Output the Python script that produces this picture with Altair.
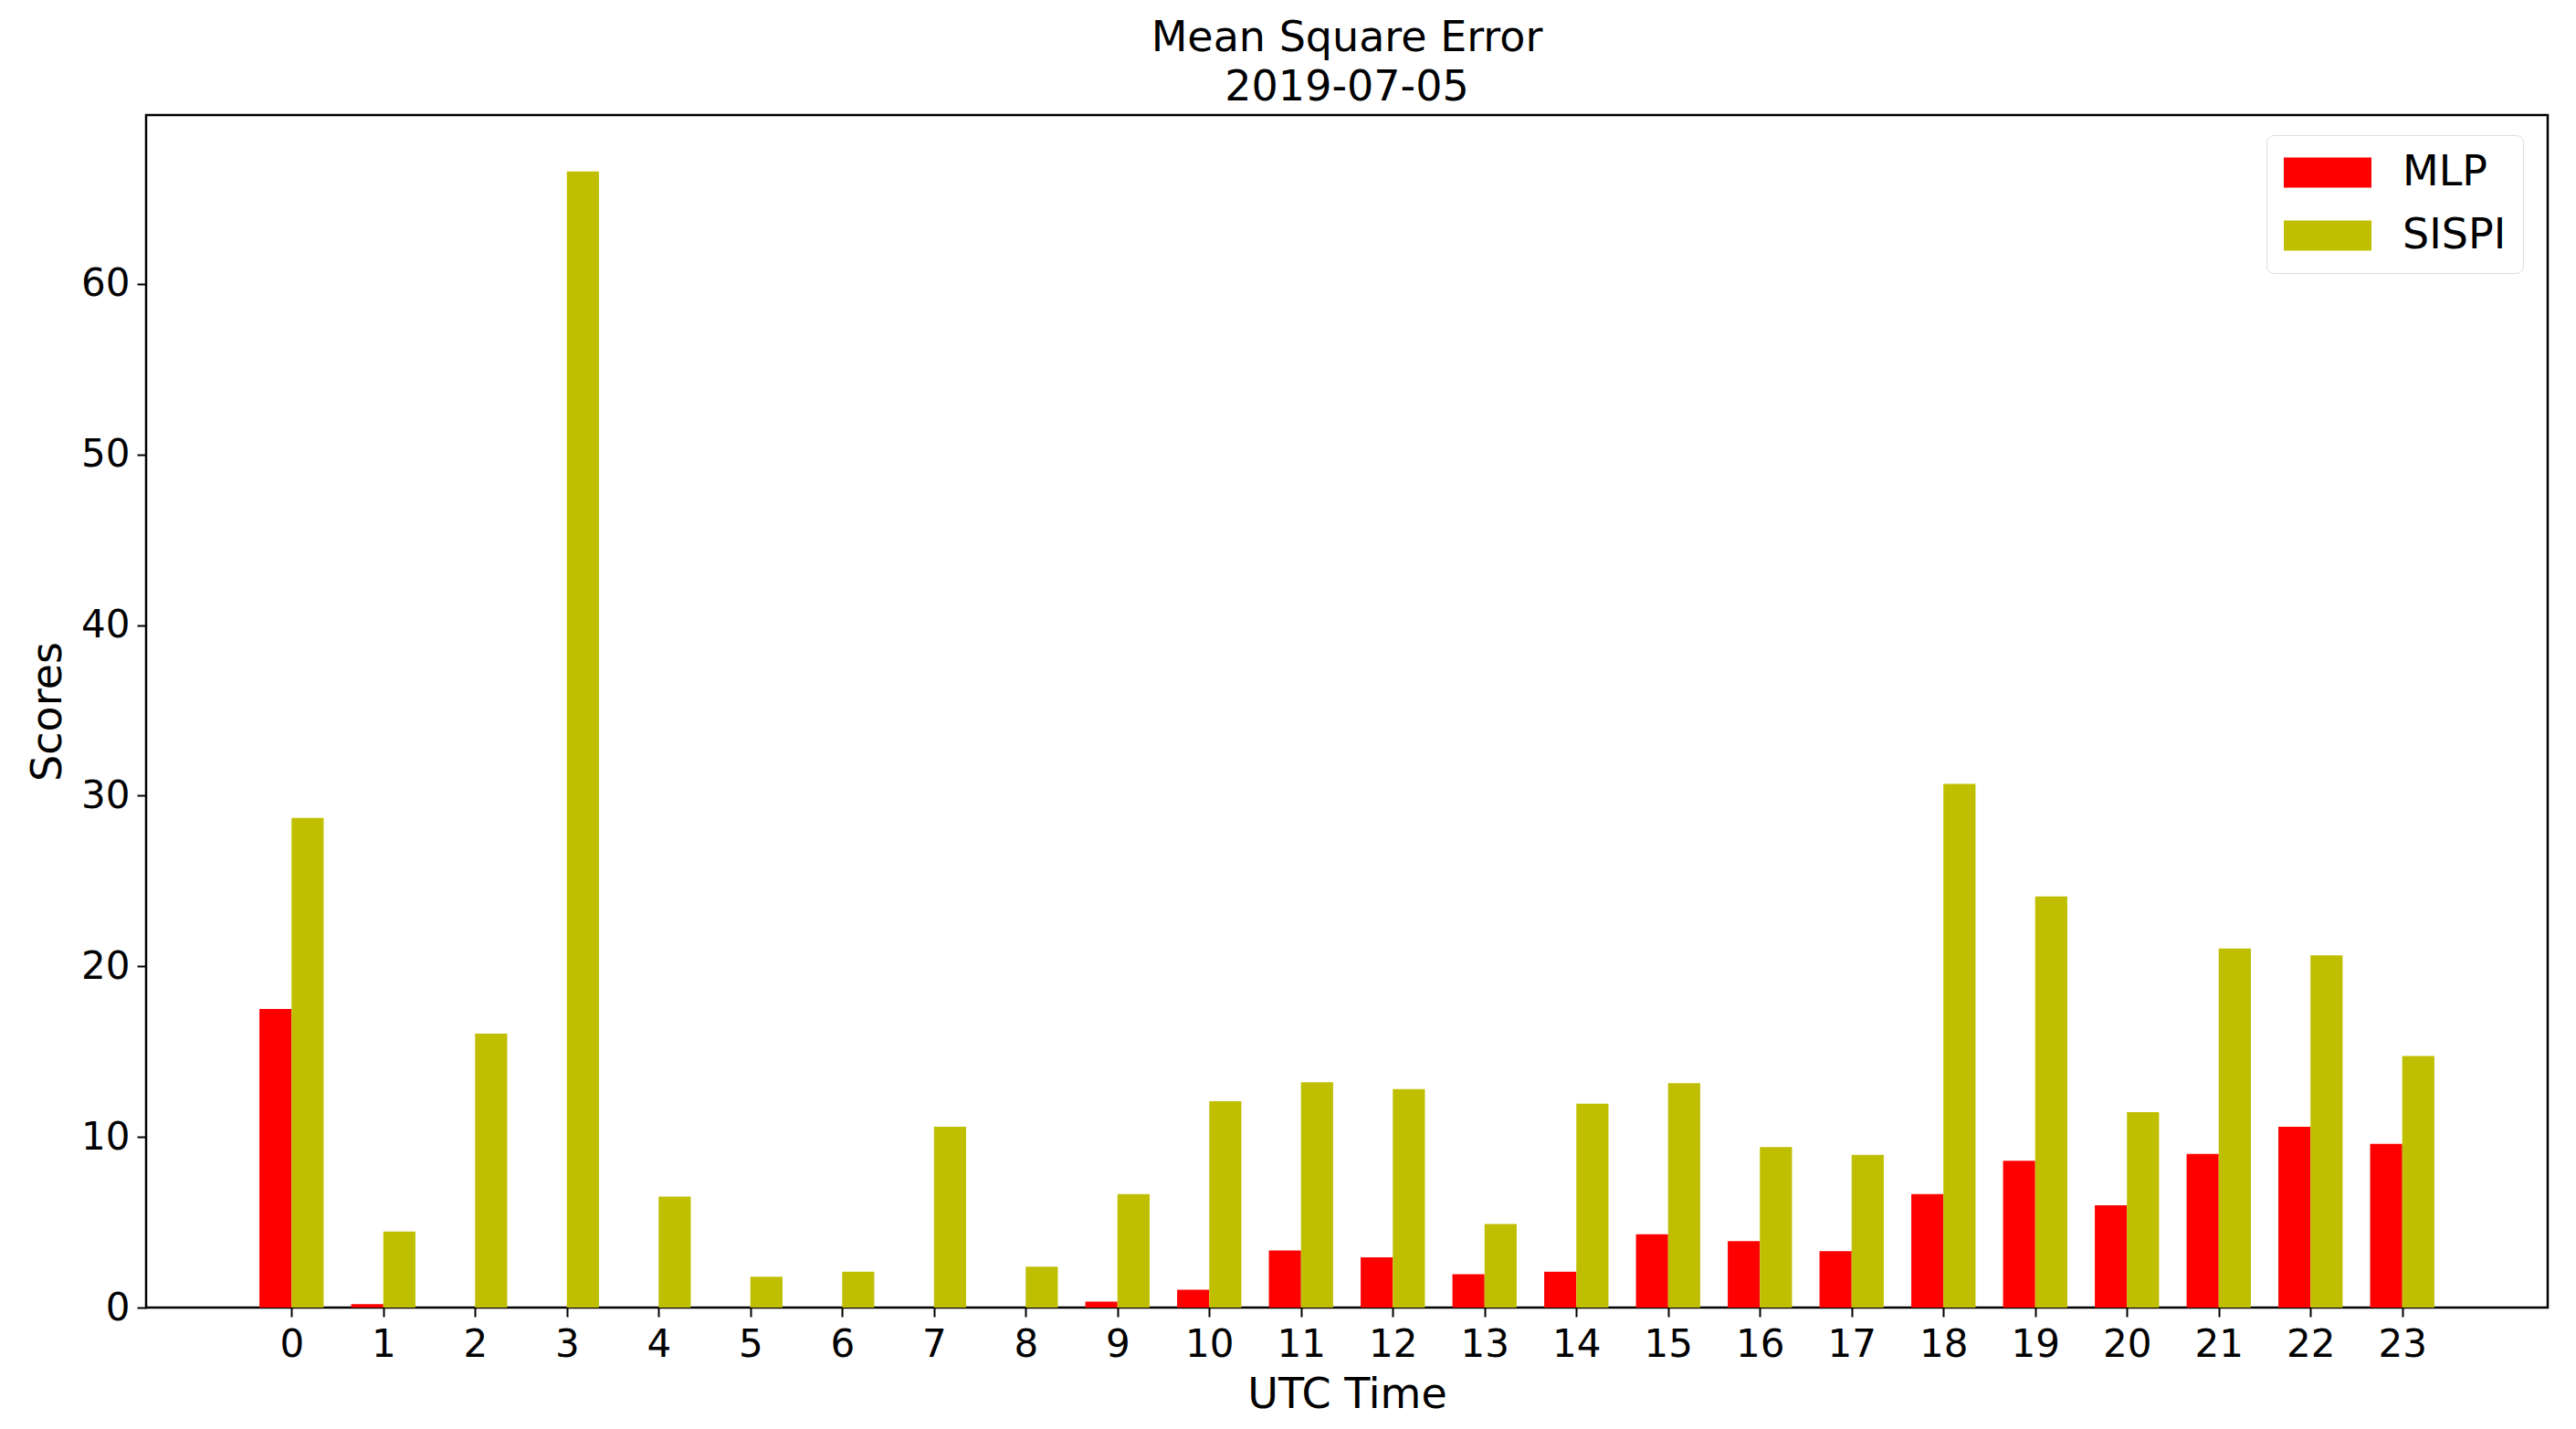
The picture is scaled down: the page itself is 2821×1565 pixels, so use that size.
import altair as alt
import pandas as pd

hours = list(range(24))
models = ["MLP", "SISPI"]
colors = ["#ff0000", "#bfbf00"]
mlp = [17.5, 0.2, 0, 0, 0, 0, 0, 0, 0, 0.35, 1.05, 3.35, 2.95, 1.95, 2.1, 4.3,
       3.9, 3.3, 6.65, 8.6, 6.0, 9.0, 10.6, 9.6]
sispi = [28.7, 4.45, 16.05, 66.6, 6.5, 1.8, 2.1, 10.6, 2.4, 6.65, 12.1, 13.2,
         12.8, 4.9, 11.95, 13.15, 9.4, 8.95, 30.7, 24.1, 11.45, 21.05, 20.65, 14.75]
y_ticks = [0, 10, 20, 30, 40, 50, 60]
BAR_W = 0.35

rows = []
for h, a, b in zip(hours, mlp, sispi):
    rows.append({"hour": h, "model": models[0], "score": a})
    rows.append({"hour": h, "model": models[1], "score": b})
df = pd.DataFrame(rows)

FONT = "DejaVu Sans"

chart = alt.Chart(df).transform_calculate(
    x0=f"datum.model == 'MLP' ? datum.hour - {BAR_W} : datum.hour",
).transform_calculate(
    x1=f"datum.x0 + {BAR_W}",
).mark_bar(orient="vertical").encode(
    x=alt.X("x0:Q",
            scale=alt.Scale(domain=[-1.535, 24.535], nice=False, zero=False),
            axis=alt.Axis(title="UTC Time", values=hours, format="d",
                          labelFontSize=42, labelFlush=False,
                          titleFontSize=46, labelFont=FONT, titleFont=FONT,
                          titleFontWeight="normal", labelColor="black",
                          titleColor="black", tickColor="black", tickSize=10,
                          tickWidth=2, domain=False, grid=False, labelPadding=10,
                          titlePadding=12)),
    x2="x1:Q",
    y=alt.Y("score:Q", scale=alt.Scale(domain=[0, 69.9], nice=False, zero=True),
            axis=alt.Axis(title="Scores", values=y_ticks, labelFontSize=42,
                          titleFontSize=46, labelFont=FONT, titleFont=FONT,
                          titleFontWeight="normal", labelColor="black",
                          titleColor="black", tickColor="black", tickSize=10,
                          tickWidth=2, domain=False, grid=False, labelPadding=8,
                          titlePadding=12)),
    y2=alt.datum(0),
    color=alt.Color("model:N", sort=models,
                    scale=alt.Scale(domain=models, range=colors),
                    legend=alt.Legend(orient="none", legendX=2322, legendY=22,
                                      title=None,
                                      symbolType="M-2.909,-1H2.909V1H-2.909Z",
                                      symbolSize=1089, symbolStrokeWidth=0,
                                      symbolOpacity=1, symbolOffset=26,
                                      labelFontSize=46, labelFont=FONT,
                                      labelColor="black", labelOffset=59,
                                      rowPadding=23, padding=18,
                                      fillColor="white", strokeColor="#dddddd",
                                      cornerRadius=8)),
).properties(
    width=2630,
    height=1306,
    title=alt.TitleParams(["Mean Square Error", "2019-07-05"], fontSize=46,
                          font=FONT, fontWeight="normal", lineHeight=54,
                          offset=6, anchor="middle", color="black"),
    autosize=alt.AutoSizeParams(type="none"),
    padding={"left": 152, "top": 118, "right": 23, "bottom": 125},
).configure_view(
    stroke="black", strokeWidth=2.5
)

chart.save("out.html", embed_options={"renderer": "svg", "actions": False})
